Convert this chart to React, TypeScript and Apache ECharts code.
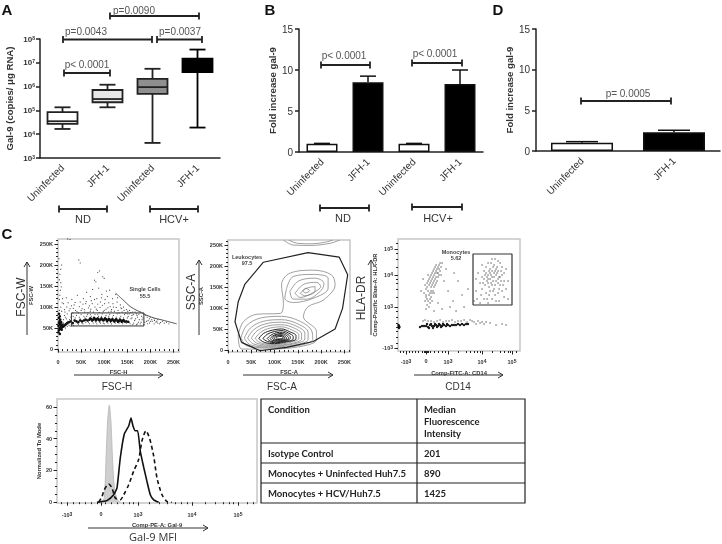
import React, { useEffect, useRef } from "react";
import * as echarts from "echarts";

// ---------- Panel A ----------
const boxCategories = ["Uninfected", "JFH-1", "Uninfected", "JFH-1"];
const boxLow = [1.66e4, 1.35e5, 4.3e3, 1.9e4];
const boxQ1 = [2.7e4, 2.2e5, 4.9e5, 4.1e6];
const boxMedian = [3.5e4, 3.0e5, 9.5e5, 9.8e6];
const boxQ3 = [8.5e4, 7.2e5, 2.1e6, 1.5e7];
const boxHigh = [1.35e5, 1.2e6, 5.6e6, 3.6e7];
const boxFills = ["#ffffff", "#e8e8e8", "#8f8f8f", "#000000"];

// ---------- Panels B and D ----------
const foldB = [1, 8.5, 1, 8.3];
const foldBErr = [1.05, 9.25, 1.05, 10.0];
const foldD = [1, 2.3];
const foldDErr = [1.15, 2.55];
const foldDCategories = ["Uninfected", "JFH-1"];

// ---------- Flow: FSC-H / FSC-W (K units) ----------
const singletSparse = [[3,118],[5,140],[6,158],[4,178],[8,200],[2,215],[10,120],[21,262],[26,261],[45,212],[48,205],[90,186],[86,182],[97,172],[79,164],[82,160],[100,168],[88,145],[75,142],[62,135],[112,140],[125,130],[118,120],[105,138],[95,130],[70,125],[55,120],[42,128],[30,118],[18,122],[12,108],[22,110],[35,105],[48,112],[60,108],[72,115],[84,120],[92,112],[102,118],[110,110],[128,112],[135,105],[142,100],[120,100],[108,98],[96,104],[80,100],[66,98],[52,96],[38,92],[26,96],[14,94],[148,94],[155,92],[138,96],[162,88],[170,84],[178,88],[190,80],[200,76],[208,72],[216,70],[226,66],[235,64],[195,68],[184,74],[172,76],[160,80],[150,84],[130,92],[115,90],[100,92],[85,92],[70,90],[58,88],[44,86],[32,86],[20,84],[12,62],[18,72],[22,60],[28,76],[30,58],[36,66],[40,80],[44,58],[48,72],[52,62],[56,78],[60,64],[64,82],[68,60],[72,78],[76,62],[80,82],[84,60],[88,78],[92,62],[96,84],[100,60],[104,80],[108,62],[112,82],[116,60],[120,80],[124,62],[128,84],[132,62],[136,78],[140,60],[144,82],[148,62],[152,78],[156,60],[160,74],[164,62],[168,72],[172,60],[176,70],[180,64],[186,58],[192,66],[198,62],[204,66],[212,64],[220,60]];
const singletExtra = [[15,88],[19,100],[24,91],[29,103],[33,97],[37,111],[41,89],[46,101],[50,92],[54,107],[57,94],[61,113],[65,87],[68,103],[71,95],[74,108],[77,88],[79,118],[83,95],[86,107],[89,87],[91,99],[94,122],[98,89],[101,108],[104,95],[107,125],[110,88],[113,101],[116,94],[119,108],[122,90],[126,99],[129,122],[132,86],[136,98],[139,88],[143,92],[146,86],[151,90],[154,84],[158,87],[163,82],[167,88],[171,80],[175,83],[181,78],[186,82],[193,76],[198,72],[203,70],[209,68],[214,66],[222,63],[230,62],[240,60],[16,76],[21,66],[25,70],[33,78],[37,74],[42,62],[46,76],[50,82],[54,60],[58,74],[62,78],[66,64],[70,82],[74,66],[78,76],[82,64],[86,82],[90,64],[94,78],[98,62],[102,76],[106,64],[110,78],[114,63],[118,76],[122,64],[126,76],[130,64],[134,74],[138,63],[142,74],[146,63],[150,74],[154,63],[158,72],[162,58],[166,68],[170,58],[174,64],[178,60],[182,70],[188,64],[194,60],[200,66],[208,60],[216,62],[12,70],[14,80],[8,90],[6,100],[3,92],[9,110],[4,128],[7,148],[3,165],[6,190],[12,52],[16,50],[20,54],[24,56],[28,54],[34,56]];
const singletDense = [[68,70],[72,71],[76,70],[80,72],[84,71],[88,70],[92,71],[96,70],[100,70],[104,71],[108,69],[112,70],[116,69],[120,68],[124,69],[128,68],[132,67],[136,68],[140,67],[144,66],[148,66],[152,65],[70,73],[74,68],[78,74],[82,68],[86,73],[90,68],[94,73],[98,68],[102,73],[106,67],[110,72],[114,67],[118,71],[122,66],[126,71],[130,65],[134,70],[138,65],[142,69],[1,40],[2,45],[3,50],[1,55],[4,58],[2,62],[5,48],[6,54],[7,50],[3,66],[5,70],[2,74],[6,60],[8,56],[9,52],[4,78],[2,84],[7,64],[10,58],[12,54],[14,56],[16,58],[18,60],[8,46],[4,36],[20,62],[24,64],[28,66],[32,62],[36,68],[40,66],[44,64],[48,68],[52,66],[56,68],[60,70],[64,68]];
const singletGate = [[29,55],[186,55],[186,86],[29,86],[29,55]];
const singletCurve = [[125,133],[140,118],[158,100],[180,87],[202,76],[230,68],[257,60]];

// ---------- Flow: FSC-A / SSC-A (K units) ----------
const leukocyteGate = [[29,18],[15,67],[22,115],[36,156],[76,209],[172,232],[239,221],[257,179],[246,99],[230,50],[183,20],[126,6],[69,-2],[29,18]];
const contourOuter = [[22,36],[33,67],[62,85],[112,87],[119,111],[115,155],[133,183],[183,190],[222,179],[230,155],[205,119],[172,103],[162,79],[190,44],[190,24],[155,8],[83,2],[29,2],[22,36]];
const contourUp1 = [[126,147],[140,175],[183,180],[215,171],[215,147],[183,123],[140,113],[122,123],[126,147]];
const contourUp2 = [[133,139],[151,164],[187,171],[206,159],[201,143],[169,121],[140,121],[133,139]];
const contourUp3 = [[144,135],[162,156],[190,161],[199,151],[180,135],[155,125],[144,135]];
const contourUp4 = [[155,135],[169,147],[187,151],[187,140],[165,129],[155,135]];
const contourUp5 = [[160,141],[167,147],[175,141],[167,136],[160,141]];
const contourTop1 = [[119,262],[140,250],[176,249],[219,254],[240,262]];
const contourTop2 = [[130,262],[150,254],[178,253],[210,257],[225,262]];
const contourLow1 = [[28,30],[40,58],[70,76],[115,80],[155,68],[180,45],[182,25],[150,10],[90,5],[40,10],[28,30]];
const contourLow2 = [[35,28],[48,52],[75,68],[115,72],[150,62],[172,42],[172,25],[145,12],[90,7],[48,12],[35,28]];
const contourLow3 = [[42,28],[55,48],[80,62],[115,66],[148,56],[165,40],[165,26],[140,14],[92,9],[55,14],[42,28]];
const contourLow4 = [[50,28],[62,45],[85,57],[115,60],[142,52],[158,38],[158,26],[135,15],[95,11],[62,16],[50,28]];
const contourLow5 = [[58,27],[70,42],[90,52],[115,55],[138,47],[152,36],[152,27],[130,17],[98,13],[70,17],[58,27]];
const contourLow6 = [[66,27],[76,39],[95,47],[115,50],[133,43],[146,34],[146,26],[126,19],[100,15],[78,18],[66,27]];
const contourLow7 = [[75,27],[84,37],[100,44],[116,46],[130,40],[140,32],[140,26],[124,20],[102,17],[85,20],[75,27]];
const contourLow8 = [[84,27],[92,35],[104,41],[117,42],[128,37],[134,30],[132,25],[120,21],[104,19],[91,21],[84,27]];
const contourLow9 = [[90,27],[96,33],[106,38],[117,39],[126,34],[130,29],[128,25],[118,22],[106,21],[95,23],[90,27]];
const contourLow10 = [[95,28],[100,33],[108,36],[117,36],[123,32],[126,28],[123,25],[115,23],[106,23],[99,24],[95,28]];
const contourLow11 = [[99,28],[103,32],[110,34],[116,34],[120,31],[122,28],[119,26],[113,25],[106,25],[102,25],[99,28]];
const contourLow12 = [[103,28],[106,31],[111,32],[115,32],[118,30],[118,28],[115,27],[110,26],[106,26],[104,27],[103,28]];
const contourLines = [contourOuter, contourUp1, contourUp2, contourUp3, contourUp4, contourUp5, contourTop1, contourTop2, contourLow1, contourLow2, contourLow3, contourLow4, contourLow5];
const contourCore = [contourLow6, contourLow7, contourLow8, contourLow9, contourLow10, contourLow11, contourLow12];

// ---------- Flow: CD14 / HLA-DR (biexponential channels) ----------
const cd14Ticks = [8, 28, 50, 84, 114];
const cd14Labels = ["-10{s|3}", "0", "10{s|3}", "10{s|4}", "10{s|5}"];
const cd14Minor = [2, 5, 11, 14, 17, 20, 24, 26, 27, 29, 30, 32, 36, 40, 44, 47, 60, 68, 72, 76, 79, 82, 94, 102, 106, 110, 112, 118];
const hlaTicks = [3, 44, 76, 102];
const hlaLabels = ["-10{s|3}", "10{s|3}", "10{s|4}", "10{s|5}"];
const hlaMinor = [8, 14, 20, 24, 28, 34, 40, 54, 62, 68, 72, 84, 92, 98, 108];
const monoScatter = [[27,50],[28,56],[29,52],[30,60],[28,62],[31,66],[30,70],[32,58],[33,64],[34,72],[32,74],[35,68],[36,76],[34,78],[37,72],[38,80],[36,82],[39,78],[40,84],[38,86],[41,82],[42,88],[40,74],[33,54],[29,46],[31,44],[35,60],[37,66],[27,66],[26,58],[30,76],[33,70],[36,64],[39,70],[41,76],[43,84],[44,88],[32,48],[28,42],[34,50],[25,72],[23,60],[46,70],[50,60],[55,50],[48,82],[60,70],[64,56],[58,40],[52,44],[44,42],[66,44],[70,62],[56,78],[40,48],[36,40],[84,62],[86,72],[88,78],[90,68],[92,82],[94,74],[96,86],[98,70],[100,80],[102,66],[104,76],[90,88],[88,58],[92,60],[96,62],[100,58],[94,52],[98,50],[86,52],[82,48],[106,70],[108,82],[104,60],[102,88],[94,92],[90,76],[92,72],[94,66],[96,78],[98,82],[100,72],[102,74],[88,84],[86,80],[84,74],[82,68],[80,78],[78,60],[96,74],[98,76],[92,78],[100,68],[94,80],[90,72],[106,78],[108,62],[110,70],[104,84],[84,86],[100,90],[106,54],[110,52],[90,48],[76,50],[78,72],[30,30],[36,29],[42,31],[48,30],[54,31],[60,30],[66,31],[72,31],[76,29],[78,27],[82,28],[86,27],[92,28],[98,26],[104,27],[108,26]];
const monoExtra = [[29,64],[31,56],[32,68],[33,60],[34,66],[35,74],[36,70],[37,78],[38,74],[39,82],[40,78],[41,86],[37,84],[35,80],[33,76],[31,72],[29,68],[28,54],[30,50],[32,52],[34,58],[36,58],[38,68],[42,80],[43,76],[87,66],[89,70],[91,64],[93,76],[95,70],[97,66],[99,78],[101,74],[103,70],[93,68],[91,80],[89,74],[95,84],[97,80],[99,84],[87,76],[85,68],[95,60],[97,56],[91,56],[89,52],[103,80],[105,66],[101,62],[93,88],[97,92],[83,56],[79,52],[101,50],[25,30],[27,31],[33,30],[39,30],[45,29],[51,30],[57,29],[63,30],[69,29],[74,30],[80,30],[84,29],[88,29]];
const monoBand = [[22,24],[24,25],[26,25],[28,25],[30,24],[32,26],[34,25],[36,25],[38,26],[40,25],[42,26],[44,25],[46,26],[48,25],[50,26],[52,25],[54,26],[56,26],[58,26],[60,27],[62,26],[64,27],[66,26],[68,27],[70,27],[29,27],[33,27],[37,27],[41,27],[45,27],[49,27],[31,23],[35,23],[39,24],[43,24],[0.5,24],[1,25],[0.5,26],[1,23],[1.5,24]];
const monoGate = [[75,46],[114,46],[114,97],[75,97],[75,46]];

// ---------- Histogram (biexponential channels) ----------
const galTicks = [10, 44, 81, 135, 181];
const galLabels = ["-10{s|3}", "0", "10{s|3}", "10{s|4}", "10{s|5}"];
const galMinor = [4, 16, 22, 28, 34, 40, 48, 54, 60, 66, 72, 76, 92, 102, 110, 118, 124, 130, 148, 158, 166, 172, 176, 190, 196];
const isotypeCurve = [[41.7,0],[45,0.8],[47.3,3],[49.3,32],[50.7,52],[52.3,61],[54,50],[55.7,25],[57.3,10],[60,2],[63.3,0]];
const uninfectedCurve = [[40,0],[45,0.4],[50,1],[56.7,4.7],[60,9],[63.3,28],[67.3,43],[71.7,48],[74,53],[76,48],[78.3,45],[80.7,45],[83.3,32],[86.7,22],[90,13],[93.3,4.7],[96.7,1.5],[101.7,0]];
const hcvCurve = [[41.7,0],[45,3.6],[47.3,7.9],[51.7,11.5],[55,9],[58.3,2.6],[63.3,1.5],[66.7,4.7],[71.7,11],[76.7,19.6],[81.7,27],[85,38.7],[89,45],[92.7,40],[96.7,29],[100,15.3],[105,4.7],[110,0.4],[115,0]];

// ---------- Table ----------
const tableConditions = ["Isotype Control", "Monocytes + Uninfected Huh7.5", "Monocytes + HCV/Huh7.5"];
const tableMfi = ["201", "890", "1425"];

const SANS = '"Liberation Sans", Arial, sans-serif';
const INK = "#222222";

const line = (x1: number, y1: number, x2: number, y2: number, w = 1.8, c = INK) => ({
  type: "line", silent: true, shape: { x1, y1, x2, y2 }, style: { stroke: c, lineWidth: w },
});
const text = (x: number, y: number, t: string, o: any = {}) => ({
  type: "text", silent: true, x, y, rotation: o.rotate ?? 0,
  style: {
    text: t, fill: o.color ?? "#333333", textAlign: o.align ?? "center", textVerticalAlign: "middle",
    font: `${o.weight ?? "normal"} ${o.size ?? 10}px ${o.family ?? SANS}`,
  },
});
const bracket = (x1: number, x2: number, y: number, t: string, tx: number, ty: number, size = 10, color = "#555555") => [
  line(x1, y, x2, y),
  line(x1, y - 3.5, x1, y + 3.5),
  line(x2, y - 3.5, x2, y + 3.5),
  text(tx, ty, t, { size, color }),
];
const arrowUp = (x: number, y1: number, y2: number) => [
  line(x, y1, x, y2, 1, "#333333"),
  { type: "polyline", silent: true, shape: { points: [[x - 3, y2 + 5], [x, y2], [x + 3, y2 + 5]] }, style: { stroke: "#333333", fill: "none", lineWidth: 1 } },
];
const arrowRight = (x1: number, x2: number, y: number) => [
  line(x1, y, x2, y, 1, "#333333"),
  { type: "polyline", silent: true, shape: { points: [[x2 - 5, y - 3], [x2, y], [x2 - 5, y + 3]] }, style: { stroke: "#333333", fill: "none", lineWidth: 1 } },
];

const supRich = { s: { fontSize: 5, fontWeight: "bold", verticalAlign: "top", fontFamily: SANS, color: "#333", padding: [0, 0, 3, 0] } };

function buildOption() {
  const big = { size: 15, weight: "bold", color: "#111111" };
  const cell = { size: 9.5, weight: "bold", align: "left", family: "Lato, sans-serif", color: "#222" };
  const gateLabel = { size: 5.5, weight: "bold", color: "#444" };
  const graphic: any[] = [
    text(7, 9, "A", big), text(270, 9, "B", big), text(498, 9, "D", big), text(7, 233, "C", big),
    ...bracket(64, 110, 73, "p< 0.0001", 87, 64),
    ...bracket(63, 152, 39.5, "p=0.0043", 86, 31),
    ...bracket(157, 202, 39.5, "p=0.0037", 180, 31),
    ...bracket(110, 199, 16, "p=0.0090", 134, 10),
    ...bracket(59, 107, 209, "ND", 83, 219, 11, "#333333"),
    ...bracket(150, 198, 209, "HCV+", 174, 219, 11, "#333333"),
    ...bracket(321, 370, 65, "p< 0.0001", 344, 55),
    ...bracket(412, 462, 63, "p< 0.0001", 435, 53),
    ...bracket(320, 369, 208, "ND", 343, 218, 11, "#333333"),
    ...bracket(412, 462, 207, "HCV+", 438, 218, 11, "#333333"),
    ...bracket(581, 671, 101, "p= 0.0005", 628, 93),
    // large flow axis captions and arrows
    text(21, 297, "FSC-W", { size: 12, rotate: Math.PI / 2 }),
    ...arrowUp(27, 335, 262),
    text(117, 386, "FSC-H", { size: 10 }),
    ...arrowRight(74, 163, 375),
    text(191, 292, "SSC-A", { size: 12, rotate: Math.PI / 2 }),
    ...arrowUp(199, 335, 260),
    text(282, 386, "FSC-A", { size: 10 }),
    ...arrowRight(243, 333, 375),
    text(361, 298, "HLA-DR", { size: 12, rotate: Math.PI / 2 }),
    ...arrowUp(371, 335, 260),
    text(458, 386, "CD14", { size: 10 }),
    ...arrowRight(414, 503, 375),
    ...arrowRight(88, 208, 528),
    text(153, 536.5, "Gal-9 MFI", { size: 11, family: '"Open Sans", sans-serif' }),
    // gate captions
    text(145, 289, "Single Cells", gateLabel),
    text(145, 296, "55.5", gateLabel),
    text(247, 257, "Leukocytes", gateLabel),
    text(247, 263, "97.5", gateLabel),
    text(456, 252, "Monocytes", gateLabel),
    text(456, 258, "5.62", gateLabel),
    // table
    { type: "rect", silent: true, shape: { x: 261, y: 399, width: 264, height: 104 }, style: { fill: "#fff", stroke: INK, lineWidth: 1.2 } },
    line(417, 399, 417, 503, 1.2),
    line(261, 443, 525, 443, 1.2),
    line(261, 463, 525, 463, 1.2),
    line(261, 483, 525, 483, 1.2),
    ...["Median", "Fluorescence", "Intensity"].map((t, i) => text(424, 409 + i * 12, t, cell)),
    text(268, 409, "Condition", cell),
    ...tableConditions.map((t, i) => text(268, 453 + i * 20, t, cell)),
    ...tableMfi.map((t, i) => text(424, 453 + i * 20, t, cell)),
  ];

  const frame = { show: true, borderColor: "#c6c6c6", borderWidth: 1.5, backgroundColor: "#fff" };
  const grid = [
    { left: 40, top: 39, width: 180, height: 119 },
    { left: 299, top: 29, width: 184, height: 123 },
    { left: 536, top: 29, width: 184, height: 122 },
    { left: 58, top: 239, width: 121, height: 113, ...frame },
    { left: 228, top: 240, width: 122, height: 112, ...frame },
    { left: 398, top: 239, width: 122, height: 112, ...frame },
    { left: 57, top: 399, width: 200, height: 104, ...frame },
  ];

  const catAxis = (gridIndex: number, data: string[]) => ({
    type: "category", gridIndex, data, boundaryGap: true,
    axisLine: { lineStyle: { color: INK, width: 1.5 } },
    axisTick: { alignWithLabel: true, length: 4, lineStyle: { color: INK, width: 1.5 } },
    axisLabel: { rotate: 45, interval: 0, margin: 8, fontSize: 10, fontFamily: SANS, color: "#333", fontWeight: 500 },
  });
  const foldAxis = (gridIndex: number, nameGap: number) => ({
    type: "value", gridIndex, min: 0, max: 15, interval: 5,
    name: "Fold increase gal-9", nameLocation: "middle", nameGap,
    nameTextStyle: { fontSize: 9.6, fontWeight: "bold", fontFamily: SANS, color: "#333" },
    splitLine: { show: false },
    axisLine: { show: true, lineStyle: { color: INK, width: 1.5 } },
    axisTick: { show: true, length: 4, lineStyle: { color: INK, width: 1.5 } },
    axisLabel: { fontSize: 10, margin: 6, fontFamily: SANS, color: "#333", fontWeight: 500 },
  });
  const flowAxis = (axisType: "x" | "y", gridIndex: number, o: any) => ({
    type: "value", gridIndex, min: o.min, max: o.max,
    position: axisType === "x" ? "bottom" : "left",
    name: o.name, nameLocation: "middle", nameGap: o.nameGap,
    nameTextStyle: { fontSize: 5.8, fontWeight: "bold", fontFamily: SANS, color: "#333" },
    splitLine: { show: false },
    axisLine: { show: false },
    axisTick: { show: true, length: o.tickLen ?? 3.5, customValues: o.ticks, lineStyle: { color: INK, width: 1 } },
    axisLabel: {
      show: !o.minor, customValues: o.ticks, margin: o.margin ?? 7, fontSize: 5.5, fontWeight: "bold", fontFamily: SANS, color: "#333",
      rich: supRich, formatter: o.format,
    },
  });
  const kFormat = (v: number) => (v === 0 ? "0" : `${v}K`);
  const lookup = (ticks: number[], labels: string[]) => (v: number) => labels[ticks.indexOf(v)] ?? "";
  const kTicks = [0, 50, 100, 150, 200, 250];
  const kMinor = [10, 20, 30, 40, 60, 70, 80, 90, 110, 120, 130, 140, 160, 170, 180, 190, 210, 220, 230, 240, 260];

  const xAxis: any[] = [
    catAxis(0, boxCategories), catAxis(1, boxCategories), catAxis(2, foldDCategories),
    flowAxis("x", 3, { min: 0, max: 262, ticks: kTicks, format: kFormat, name: "FSC-H", nameGap: 17 }),
    flowAxis("x", 4, { min: 0, max: 262, ticks: kTicks, format: kFormat, name: "FSC-A", nameGap: 17 }),
    flowAxis("x", 5, { min: 0, max: 122, ticks: cd14Ticks, format: lookup(cd14Ticks, cd14Labels), name: "Comp-FITC-A: CD14", nameGap: 19 }),
    flowAxis("x", 6, { min: 0, max: 200, ticks: galTicks, format: lookup(galTicks, galLabels), name: "Comp-PE-A: Gal-9", nameGap: 19, margin: 8 }),
    flowAxis("x", 3, { min: 0, max: 262, ticks: kMinor, minor: true, tickLen: 2 }),
    flowAxis("x", 4, { min: 0, max: 262, ticks: kMinor, minor: true, tickLen: 2 }),
    flowAxis("x", 5, { min: 0, max: 122, ticks: cd14Minor, minor: true, tickLen: 2 }),
    flowAxis("x", 6, { min: 0, max: 200, ticks: galMinor, minor: true, tickLen: 2 }),
  ];
  const yAxis: any[] = [
    {
      type: "log", logBase: 10, gridIndex: 0, min: 1e3, max: 1e8,
      name: "Gal-9 (copies/ \u03bcg RNA)", nameLocation: "middle", nameGap: 26,
      nameTextStyle: { fontSize: 9.6, fontWeight: "bold", fontFamily: SANS, color: "#333" },
      splitLine: { show: false }, minorTick: { show: false },
      axisLine: { show: true, lineStyle: { color: INK, width: 1.5 } },
      axisTick: { show: true, length: 4, lineStyle: { color: INK, width: 1.5 } },
      axisLabel: {
        fontSize: 8, fontWeight: "bold", fontFamily: SANS, color: "#333", margin: 5,
        formatter: (v: number) => `10{s|${Math.round(Math.log10(v))}}`, rich: supRich,
      },
    },
    foldAxis(1, 21), foldAxis(2, 21),
    flowAxis("y", 3, { min: -7, max: 262, ticks: kTicks, format: kFormat, name: "FSC-W", nameGap: 24, margin: 5 }),
    flowAxis("y", 4, { min: -5, max: 262, ticks: kTicks, format: kFormat, name: "SSC-A", nameGap: 24, margin: 5 }),
    flowAxis("y", 5, { min: 0, max: 112, ticks: hlaTicks, format: lookup(hlaTicks, hlaLabels), name: "Comp-Pacific Blue-A: HLA-DR", nameGap: 18, margin: 5 }),
    flowAxis("y", 6, { min: -0.5, max: 65, ticks: [0, 20, 40, 60], format: (v: number) => String(v), name: "Normalized To Mode", nameGap: 15, margin: 5 }),
    flowAxis("y", 3, { min: -7, max: 262, ticks: kMinor, minor: true, tickLen: 2 }),
    flowAxis("y", 4, { min: -5, max: 262, ticks: kMinor, minor: true, tickLen: 2 }),
    flowAxis("y", 5, { min: 0, max: 112, ticks: hlaMinor, minor: true, tickLen: 2 }),
    flowAxis("y", 6, { min: -0.5, max: 65, ticks: [5, 10, 15, 25, 30, 35, 45, 50, 55], minor: true, tickLen: 2 }),
  ];

  const boxSeries = {
    type: "custom", xAxisIndex: 0, yAxisIndex: 0, clip: false,
    encode: { x: 0, y: [1, 2, 3, 4, 5] },
    data: boxCategories.map((_, i) => [i, boxLow[i], boxQ1[i], boxMedian[i], boxQ3[i], boxHigh[i]]),
    renderItem: (_p: any, api: any) => {
      const i = api.value(0);
      const [cx, low] = api.coord([i, api.value(1)]);
      const q1 = api.coord([i, api.value(2)])[1];
      const med = api.coord([i, api.value(3)])[1];
      const q3 = api.coord([i, api.value(4)])[1];
      const high = api.coord([i, api.value(5)])[1];
      const stroke = { stroke: i === 3 ? "#000" : "#222", lineWidth: 1.8 };
      const l = (x1: number, y1: number, x2: number, y2: number) =>
        ({ type: "line", shape: { x1, y1, x2, y2 }, style: stroke });
      return {
        type: "group",
        children: [
          l(cx, high, cx, low),
          l(cx - 8, high, cx + 8, high),
          l(cx - 8, low, cx + 8, low),
          { type: "rect", shape: { x: cx - 15, y: q3, width: 30, height: q1 - q3 }, style: { fill: boxFills[i], ...stroke } },
          l(cx - 15, med, cx + 15, med),
        ],
      };
    },
  };
  const barSeries = (axis: number, values: number[], errs: number[], width: number, capHalf: number) => [
    {
      type: "bar", xAxisIndex: axis, yAxisIndex: axis, barWidth: width, z: 3,
      data: values.map((v, i) => ({
        value: v,
        itemStyle: { color: i % 2 === 0 ? "#ffffff" : "#000000", borderColor: "#111", borderWidth: 1.5 },
      })),
    },
    {
      type: "custom", xAxisIndex: axis, yAxisIndex: axis, z: 2, clip: false,
      encode: { x: 0, y: [1, 2] },
      data: values.map((v, i) => [i, v, errs[i]]),
      renderItem: (_p: any, api: any) => {
        const [cx, base] = api.coord([api.value(0), api.value(1)]);
        const top = api.coord([api.value(0), api.value(2)])[1];
        const s = { stroke: "#111", lineWidth: 1.5 };
        return {
          type: "group",
          children: [
            { type: "line", shape: { x1: cx, y1: base, x2: cx, y2: top }, style: s },
            { type: "line", shape: { x1: cx - capHalf, y1: top, x2: cx + capHalf, y2: top }, style: s },
          ],
        };
      },
    },
  ];
  const dots = (g: number, data: number[][], size: number, color: string, opacity = 1) => ({
    type: "scatter", xAxisIndex: g, yAxisIndex: g, data, symbolSize: size, silent: true,
    itemStyle: { color, opacity },
  });
  const trace = (g: number, data: number[][], o: any = {}) => ({
    type: "line", xAxisIndex: g, yAxisIndex: g, data, showSymbol: false, symbol: "none", silent: true,
    smooth: o.smooth ?? 0, clip: true, z: o.z ?? 3,
    lineStyle: { color: o.color ?? "#222", width: o.width ?? 1, type: o.dash ?? "solid" },
    ...(o.area ? { areaStyle: { color: o.area, opacity: 1 } } : {}),
  });

  const series: any[] = [
    boxSeries,
    ...barSeries(1, foldB, foldBErr, 31, 8),
    ...barSeries(2, foldD, foldDErr, 62, 16),
    dots(3, singletSparse, 1.1, "#444"),
    dots(3, singletExtra, 1.1, "#444"),
    dots(3, singletDense, 2.6, "#111"),
    trace(3, singletGate, { width: 1, color: "#333" }),
    trace(3, singletCurve, { width: 1, color: "#555", smooth: 0.3 }),
    ...contourLines.map((c) => trace(4, c, { smooth: 0.35, width: 0.7, color: "#777" })),
    ...contourCore.map((c) => trace(4, c, { smooth: 0.35, width: 1, color: "#222" })),
    trace(4, leukocyteGate, { width: 1.2, color: "#222", z: 5 }),
    dots(5, monoScatter, 1.2, "#333"),
    dots(5, monoExtra, 1.2, "#333"),
    dots(5, monoBand, 2.4, "#111"),
    trace(5, monoGate, { width: 1.2, color: "#333" }),
    trace(6, isotypeCurve, { smooth: 0.3, width: 0.8, color: "#b5b5b5", area: "#cfcfcf", z: 2 }),
    trace(6, uninfectedCurve, { smooth: 0.15, width: 1.6, color: "#111" }),
    trace(6, hcvCurve, { smooth: 0.25, width: 1.6, color: "#111", dash: [4, 3] }),
  ];

  return { animation: false, backgroundColor: "#ffffff", grid, xAxis, yAxis, series, graphic };
}

export default function App() {
  const ref = useRef<HTMLDivElement>(null);
  useEffect(() => {
    document.body.style.margin = "0";
    const chart = echarts.init(ref.current!, undefined, { renderer: "svg" });
    chart.setOption(buildOption() as any);
    return () => chart.dispose();
  }, []);
  return <div ref={ref} style={{ width: 722, height: 544, filter: "blur(0.35px)" }} />;
}
